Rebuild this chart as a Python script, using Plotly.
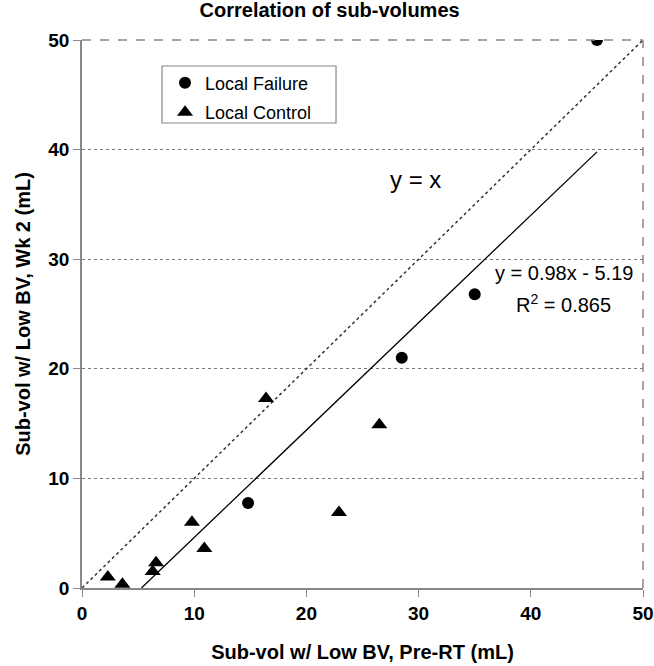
import plotly.graph_objects as go
import numpy as np

failure_x = [45.9, 35.0, 28.5, 14.8]
failure_y = [50.0, 26.8, 21.0, 7.75]
control_x = [2.3, 3.6, 6.3, 6.6, 9.8, 10.9, 16.4, 22.9, 26.5]
control_y = [1.0, 0.35, 1.5, 2.3, 6.0, 3.6, 17.3, 6.9, 14.9]
slope, intercept = 0.98, -5.19
identity_range = [0, 50]
tick_vals = [0, 10, 20, 30, 40, 50]

FONT = "Arial, Liberation Sans, sans-serif"

fig = go.Figure()

fig.add_trace(go.Scatter(x=identity_range, y=identity_range, mode="lines",
                         line=dict(color="#333", width=1.5, dash="dot"),
                         showlegend=False, hoverinfo="skip"))
x_start = -intercept / slope
x_end = max(failure_x + control_x)
rx = np.array([x_start, x_end])
fig.add_trace(go.Scatter(x=rx, y=slope * rx + intercept, mode="lines",
                         line=dict(color="black", width=1.3),
                         showlegend=False, hoverinfo="skip"))

fig.add_trace(go.Scatter(x=failure_x, y=failure_y, mode="markers", name="Local Failure",
                         legendgroup="f",
                         marker=dict(symbol="circle", size=12, color="black")))
fig.add_trace(go.Scatter(x=control_x, y=control_y, mode="markers", name="Local Control",
                         legendgroup="c",
                         marker=dict(symbol="triangle-up", size=14, color="black")))

axis_common = dict(range=[0, 50], tickvals=tick_vals, showline=True, linecolor="#888",
                   linewidth=1.5, ticks="outside", ticklen=7, tickcolor="#888",
                   zeroline=False, automargin=False, ticklabeloverflow="allow",
                   tickfont=dict(family=FONT, size=19, color="black", weight="bold"))

fig.update_xaxes(**axis_common, showgrid=False,
                 title=dict(text="<b>Sub-vol w/ Low BV, Pre-RT (mL)</b>",
                            font=dict(family=FONT, size=20, color="black"), standoff=22))
fig.update_yaxes(**axis_common, showgrid=True, gridcolor="#777", griddash="dot", gridwidth=1,
                 title=dict(text="<b>Sub-vol w/ Low BV, Wk 2 (mL)</b>",
                            font=dict(family=FONT, size=20, color="black"), standoff=12))

fig.add_shape(type="line", xref="paper", yref="paper", x0=0, x1=1, y0=1, y1=1,
              line=dict(color="#888", width=1.5, dash="dash"))
fig.add_shape(type="line", xref="paper", yref="paper", x0=1, x1=1, y0=0, y1=1,
              line=dict(color="#888", width=1.5, dash="dash"))
# legend frame
fig.add_shape(type="rect", xref="paper", yref="paper", x0=0.1426, x1=0.4528,
              y0=0.8485, y1=0.9526, line=dict(color="#888", width=1.2),
              fillcolor="white", layer="below")

fig.add_annotation(x=0.595, y=0.745, xref="paper", yref="paper", text="y = x",
                   xanchor="center", yanchor="middle",
                   showarrow=False, font=dict(family=FONT, size=24, color="black"))
fig.add_annotation(x=0.859, y=0.575, xref="paper", yref="paper",
                   text="y = 0.98x - 5.19", xanchor="center", yanchor="middle",
                   showarrow=False, font=dict(family=FONT, size=20, color="black"))
fig.add_annotation(x=0.859, y=0.52, xref="paper", yref="paper",
                   text="R<sup>2</sup> = 0.865", xanchor="center", yanchor="middle",
                   showarrow=False, font=dict(family=FONT, size=20, color="black"))

fig.update_layout(
    width=654, height=666,
    margin=dict(l=82, r=11, t=40, b=78),
    paper_bgcolor="white", plot_bgcolor="white",
    title=dict(text="<b>Correlation of sub-volumes</b>", x=0.504, xanchor="center",
               y=0.995, yanchor="top",
               font=dict(family=FONT, size=20, color="black")),
    legend=dict(x=0.148, y=0.955, xanchor="left", yanchor="top",
                borderwidth=0, bgcolor="rgba(0,0,0,0)",
                font=dict(family=FONT, size=18, color="black"),
                tracegroupgap=3, itemwidth=30),
)

fig.write_html("out.html")
